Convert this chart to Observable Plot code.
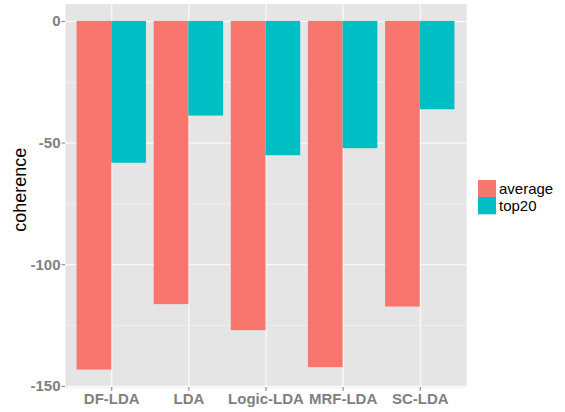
<!DOCTYPE html>
<html><head><meta charset="utf-8">
<script src="https://cdn.jsdelivr.net/npm/d3@7"></script>
<script src="https://cdn.jsdelivr.net/npm/@observablehq/plot@0.6"></script>
<style>
body{margin:0;background:#fff;font-family:"Liberation Sans",Arial,Helvetica,sans-serif;}
#wrap{position:relative;width:565px;height:412px;}
#wrap svg{font-family:"Liberation Sans",Arial,Helvetica,sans-serif;}
#legend{position:absolute;left:478px;top:180px;}
#legend div{font-family:"Liberation Sans",Arial,Helvetica,sans-serif !important;font-size:15px !important;color:#000 !important;line-height:17.3px !important;margin:0 !important;padding:0 !important;min-height:0 !important;}
#legend svg{margin-right:3px !important;}
</style></head><body><div id="wrap"><div id="legend"></div></div>
<script>
const categories = ["DF-LDA", "LDA", "Logic-LDA", "MRF-LDA", "SC-LDA"];
const seriesNames = ["average", "top20"];
const average = [-143.3, -116.4, -127.1, -142.3, -117.4];
const top20 = [-58.3, -38.9, -55.2, -52.3, -36.3];
const seriesColors = ["#F8766D", "#00BFC4"];
const yTicks = [0, -50, -100, -150];
const yMinorTicks = [-25, -75, -125];

const seriesValues = [average, top20];
const dodgeWidth = 0.9 / seriesNames.length;
const table = categories.flatMap((c, i) => seriesValues.map((vals, j) => ({
  category: c,
  series: seriesNames[j],
  value: vals[i],
  x1: i - 0.45 + j * dodgeWidth,
  x2: i - 0.45 + (j + 1) * dodgeWidth
})));
const catIndex = d3.range(categories.length);

const chart = Plot.plot({
  width: 565,
  height: 412,
  marginLeft: 65,
  marginRight: 99,
  marginTop: 3.5,
  marginBottom: 25,
  x: {domain: [-0.6, categories.length - 1 + 0.6]},
  y: {domain: [-150.47, 7.165]},
  color: {domain: seriesNames, range: seriesColors},
  marks: [
    Plot.frame({fill: "#E5E5E5", stroke: "none"}),
    Plot.ruleY(yMinorTicks, {stroke: "#F2F2F2", strokeWidth: 0.8}),
    Plot.ruleY(yTicks, {stroke: "#FFFFFF", strokeWidth: 1}),
    Plot.ruleX(catIndex, {stroke: "#FFFFFF", strokeWidth: 1}),
    Plot.rectY(table, {x1: "x1", x2: "x2", y1: 0, y2: "value", fill: "series"}),
    Plot.axisX({ticks: catIndex, tickFormat: i => categories[i], tickSize: 4, tickPadding: 2,
      fontSize: 15, fontWeight: "bold", fill: "#7F7F7F", stroke: "#7F7F7F", label: null}),
    Plot.axisY({ticks: yTicks, tickFormat: d => String(d), tickSize: 3.5, tickPadding: 1.5,
      fontSize: 15, fontWeight: "bold", fill: "#7F7F7F", stroke: "#7F7F7F", label: null}),
    Plot.text(["coherence"], {frameAnchor: "left", rotate: -90, dx: -40, dy: -6, lineAnchor: "bottom",
      textAnchor: "middle", fontSize: 18, fill: "#000"})
  ]
});
document.getElementById("wrap").prepend(chart);

const legend = Plot.legend({
  color: {domain: seriesNames, range: seriesColors},
  legend: "swatches",
  columns: 1,
  swatchWidth: 18,
  swatchHeight: 17.3,
  className: "lg"
});
document.getElementById("legend").appendChild(legend);
</script>
</body></html>
